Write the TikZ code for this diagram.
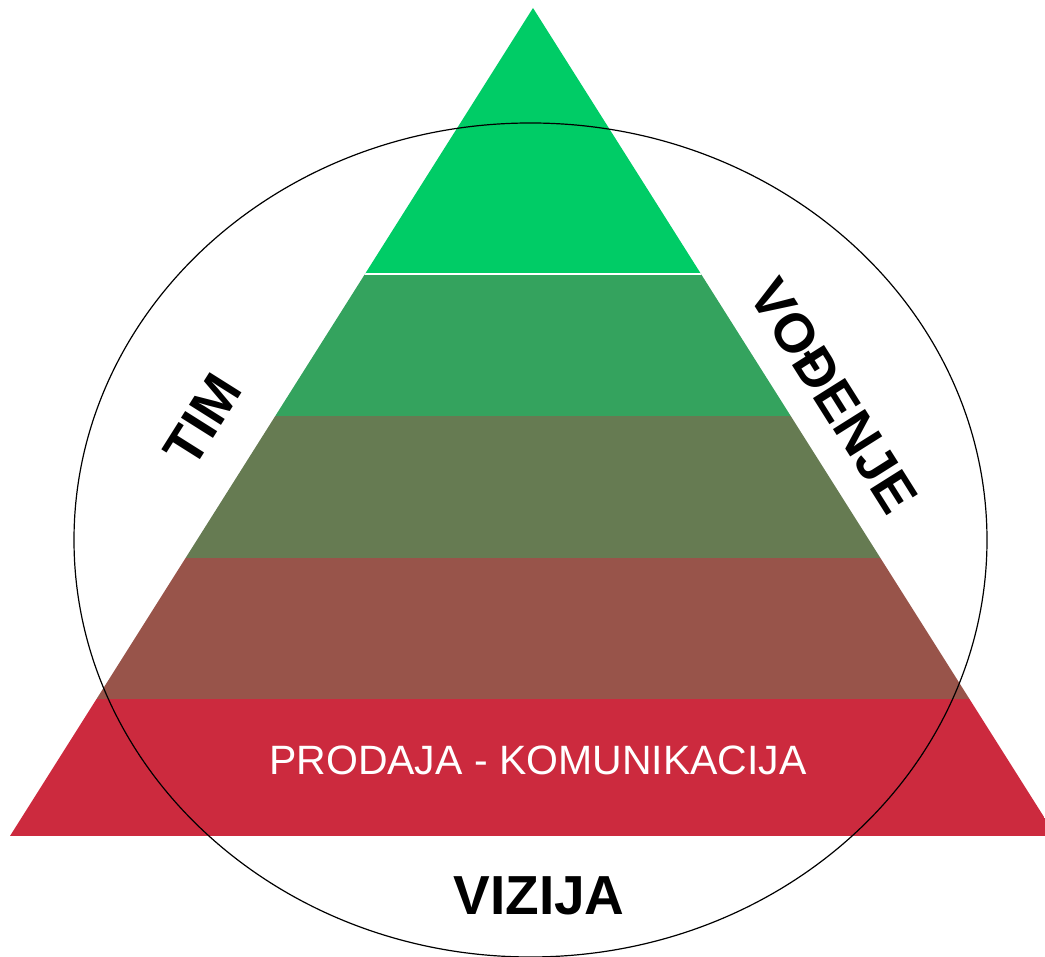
\documentclass[tikz,border=0pt]{standalone}
\usepackage{fontspec}
\setmainfont{Liberation Sans}
\definecolor{lay1}{RGB}{0,204,102}
\definecolor{lay2}{RGB}{52,163,94}
\definecolor{lay3}{RGB}{102,123,82}
\definecolor{lay4}{RGB}{152,84,74}
\definecolor{lay5}{RGB}{204,42,62}
\begin{document}
\begin{tikzpicture}[x=1pt,y=1pt,
  bigword/.style={font=\fontsize{55}{60}\selectfont\bfseries, text=black, inner sep=0pt},
  basetext/.style={font=\fontsize{41}{46}\selectfont, text=white, inner sep=0pt}]
\useasboundingbox (0,0) rectangle (1045,957);
\clip (0,0) rectangle (1045,957);
\coordinate (apex) at (533,949);
\coordinate (bl) at (10,121);
\coordinate (br) at (1056,121);
% layers
\begin{scope}
  \clip (apex) -- (bl) -- (br) -- cycle;
  \fill[lay1] (0,683) rectangle (1045,957);
  \fill[lay2] (0,541) rectangle (1045,683);
  \fill[lay3] (0,399) rectangle (1045,541);
  \fill[lay4] (0,258) rectangle (1045,399);
  \fill[lay5] (0,121) rectangle (1045,258);
  \draw[white, line width=1.5pt] (0,683) -- (1045,683);
\end{scope}
% ellipse
\draw[black, line width=1.2pt] (530.5,417) ellipse [x radius=456.5, y radius=417];
% texts
\node[bigword, rotate=57.8] (tim) at (203,537) {TIM};
\node[bigword, rotate=-57.8] (vod) at (834,561) {VOĐENJE};
\node[bigword] (viz) at (539,61) {VIZIJA};
\node[basetext] (pk) at (538,197) {PRODAJA - KOMUNIKACIJA};
\end{tikzpicture}
\end{document}
